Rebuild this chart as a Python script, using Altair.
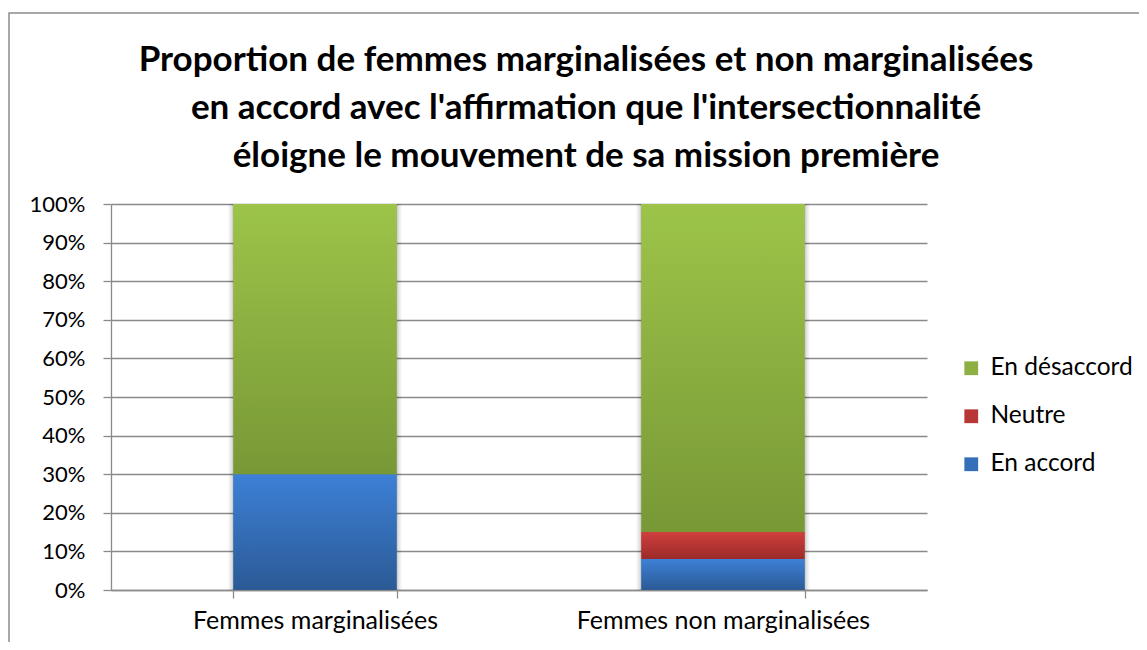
import altair as alt
import pandas as pd

groups = ["Femmes marginalisées", "Femmes non marginalisées"]
categories = ["En accord", "Neutre", "En désaccord"]
en_accord = [0.30, 0.08]
neutre = [0.0, 0.07]
en_desaccord = [0.70, 0.85]
y_ticks = [0.0, 0.1, 0.2, 0.3, 0.4, 0.5, 0.6, 0.7, 0.8, 0.9, 1.0]
title_lines = [
    "Proportion de femmes marginalisées et non marginalisées",
    "en accord avec l'affirmation que l'intersectionnalité",
    "éloigne le mouvement de sa mission première",
]
legend_order = ["En désaccord", "Neutre", "En accord"]
legend_colors = ["#8cb043", "#b83636", "#346fb8"]
grad_top = {"En accord": "#3d80d6", "Neutre": "#cf3f3d", "En désaccord": "#9dc449"}
grad_bottom = {"En accord": "#2b5a95", "Neutre": "#9b2b29", "En désaccord": "#789836"}

rows = []
for i, g in enumerate(groups):
    for order, (c, vals) in enumerate(zip(categories, [en_accord, neutre, en_desaccord])):
        rows.append({"group": g, "category": c, "order": order, "value": vals[i]})
df = pd.DataFrame(rows)

FONT = "Lato"
GRID = "#8a8a8a"

x_enc = alt.X(
    "group:N",
    sort=groups,
    scale=alt.Scale(paddingInner=0.6, paddingOuter=0.3),
    axis=alt.Axis(title=None, labelAngle=0, tickBand="extent", grid=False,
                  tickSize=8, labelPadding=10, labelLimit=500, labelFontSize=25,
                  domainColor=GRID, tickColor=GRID, domainWidth=1.3, tickWidth=1.3),
)
y_scale = alt.Scale(domain=[0, 1], nice=False)
y_axis = alt.Axis(title=None, values=y_ticks, format=".0%", tickSize=8, labelPadding=18,
                  labelFontSize=22,
                  grid=True, gridColor=GRID, gridWidth=1.3, domainColor=GRID,
                  tickColor=GRID, domainWidth=1.3, tickWidth=1.3)
y_enc = alt.Y("v0:Q", scale=y_scale, axis=y_axis)

base = alt.Chart(df).transform_stack(
    stack="value", as_=["v0", "v1"], groupby=["group"],
    sort=[alt.SortField("order", order="ascending")],
)

# soft shadow behind bars
shadows = []
for band, op in [(1.06, 0.05), (1.035, 0.07), (1.015, 0.09)]:
    shadows.append(
        base.mark_bar(color="#000000", opacity=op, width=alt.RelativeBandSize(band))
        .encode(x=x_enc, y=y_enc, y2="v1:Q")
    )

legend_layer = base.mark_bar().encode(
    x=x_enc,
    y=y_enc,
    y2="v1:Q",
    color=alt.Color(
        "category:N",
        scale=alt.Scale(domain=legend_order, range=legend_colors),
        legend=alt.Legend(title=None, orient="none", legendX=848, legendY=152,
                          symbolType="square", symbolSize=190, symbolStrokeWidth=0,
                          labelFont=FONT, labelFontSize=24.5, labelColor="black",
                          labelOffset=7, rowPadding=23),
    ),
)

layers = shadows + [legend_layer]
for c in categories:
    grad = alt.Gradient(
        gradient="linear",
        stops=[alt.GradientStop(offset=0, color=grad_top[c]),
               alt.GradientStop(offset=1, color=grad_bottom[c])],
        x1=0, x2=0, y1=0, y2=1,
    )
    layers.append(
        base.transform_filter(alt.datum.category == c)
        .mark_bar(color=grad)
        .encode(x=x_enc, y=y_enc, y2="v1:Q")
    )

frame = alt.Chart(pd.DataFrame({"a": [0]})).mark_rect(
    filled=False, stroke="#8c8c8c", strokeWidth=1.5
).encode(
    x=alt.value(-102), x2=alt.value(1300), y=alt.value(-191), y2=alt.value(800)
)
layers.append(frame)

chart = alt.layer(*layers).properties(
    width=816,
    height=386,
    autosize=alt.AutoSizeParams(type="none"),
    padding={"left": 103, "top": 196, "right": 212, "bottom": 52},
    title=alt.TitleParams(text=title_lines, font=FONT, fontSize=35, fontWeight="bold",
                          lineHeight=48, anchor="middle", dx=67, offset=-162,
                          color="black"),
).configure_view(stroke=None).configure_axis(
    labelFont=FONT, labelColor="black"
)

chart.save("out.html", embed_options={"renderer": "svg", "actions": False})
